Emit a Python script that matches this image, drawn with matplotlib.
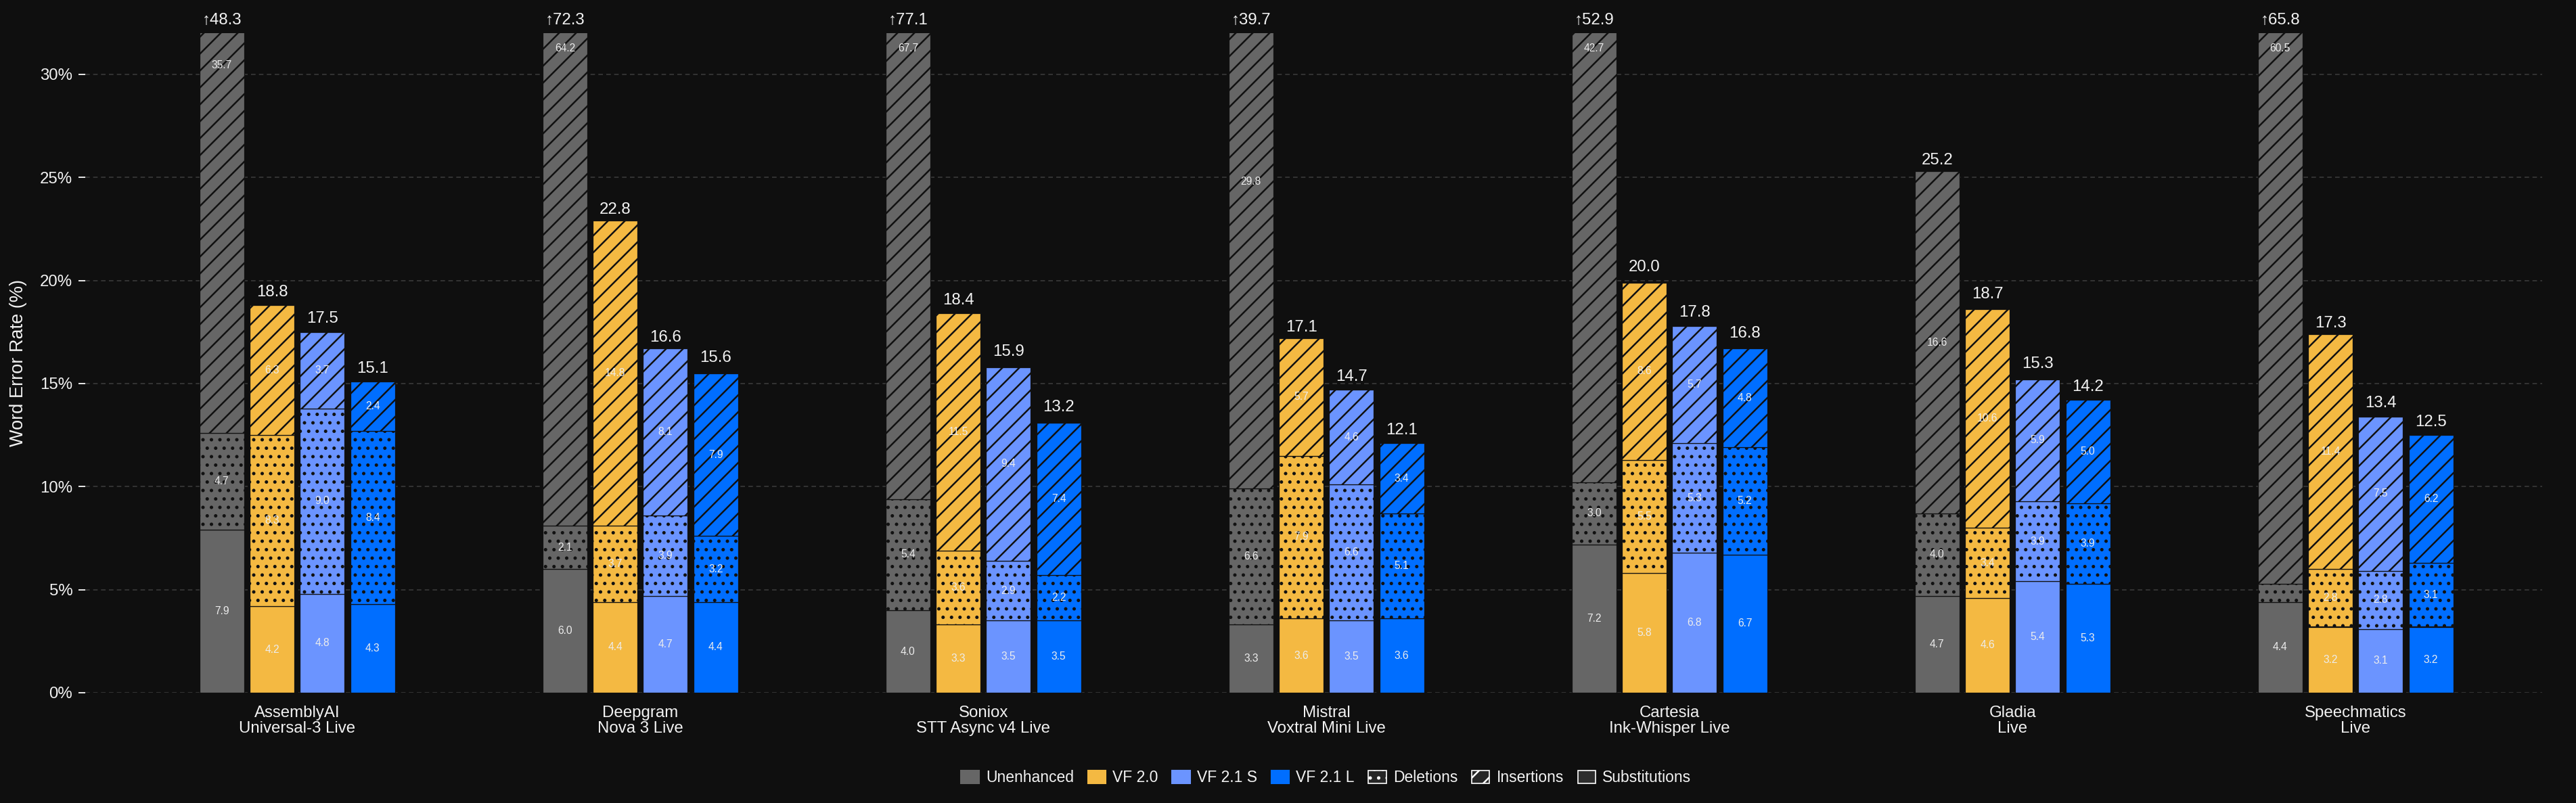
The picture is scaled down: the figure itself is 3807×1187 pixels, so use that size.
import matplotlib
matplotlib.use("Agg")
import matplotlib.pyplot as plt
from matplotlib.patches import Patch
from matplotlib.ticker import FuncFormatter
import numpy as np

# ---------------- data ----------------
providers = ["AssemblyAI\nUniversal-3 Live", "Deepgram\nNova 3 Live", "Soniox\nSTT Async v4 Live",
             "Mistral\nVoxtral Mini Live", "Cartesia\nInk-Whisper Live", "Gladia\nLive",
             "Speechmatics\nLive"]
variants = ["Unenhanced", "VF 2.0", "VF 2.1 S", "VF 2.1 L"]

# rows follow `variants`, columns follow `providers`
substitutions = [
    [7.9, 6.0, 4.0, 3.3, 7.2, 4.7, 4.4],
    [4.2, 4.4, 3.3, 3.6, 5.8, 4.6, 3.2],
    [4.8, 4.7, 3.5, 3.5, 6.8, 5.4, 3.1],
    [4.3, 4.4, 3.5, 3.6, 6.7, 5.3, 3.2],
]
deletions = [
    [4.7, 2.1, 5.4, 6.6, 3.0, 4.0, 0.9],
    [8.3, 3.7, 3.6, 7.9, 5.5, 3.4, 2.8],
    [9.0, 3.9, 2.9, 6.6, 5.3, 3.9, 2.8],
    [8.4, 3.2, 2.2, 5.1, 5.2, 3.9, 3.1],
]
insertions = [
    [35.7, 64.2, 67.7, 29.8, 42.7, 16.6, 60.5],
    [6.3, 14.8, 11.5, 5.7, 8.6, 10.6, 11.4],
    [3.7, 8.1, 9.4, 4.6, 5.7, 5.9, 7.5],
    [2.4, 7.9, 7.4, 3.4, 4.8, 5.0, 6.2],
]
totals = [
    [48.3, 72.3, 77.1, 39.7, 52.9, 25.2, 65.8],
    [18.8, 22.8, 18.4, 17.1, 20.0, 18.7, 17.3],
    [17.5, 16.6, 15.9, 14.7, 17.8, 15.3, 13.4],
    [15.1, 15.6, 13.2, 12.1, 16.8, 14.2, 12.5],
]
y_ticks = [0, 5, 10, 15, 20, 25, 30]
y_max = 32

# ---------------- style ----------------
colors = ["#666666", "#F4B942", "#6B94FF", "#006EFF"]
BG = "#0F0F0F"
TXT = "#F2F2F2"
FONT = ["Liberation Sans Narrow", "Liberation Sans", "DejaVu Sans"]

plt.rcParams["font.family"] = FONT
plt.rcParams["hatch.linewidth"] = 1.2

fig = plt.figure(figsize=(3807 / 150, 1187 / 150), dpi=150, facecolor=BG)
ax = fig.add_axes([126 / 3807, 1 - 1024 / 1187, (3757 - 126) / 3807, (1024 - 49) / 1187])
ax.set_facecolor(BG)

bar_w = 0.130
step = 0.1465
xs = np.arange(len(providers))

for j, var in enumerate(variants):
    x = xs + (j - 1.5) * step
    sub = np.array(substitutions[j])
    dele = np.array(deletions[j])
    ins = np.array(insertions[j])
    kw = dict(width=bar_w, color=colors[j], edgecolor="#111111", linewidth=0.6)
    ax.bar(x, sub, **kw)
    ax.bar(x, dele, bottom=sub, hatch="..", **kw)
    ax.bar(x, ins, bottom=sub + dele, hatch="//", **kw)
    for i in range(len(providers)):
        segs = [(0, sub[i]), (sub[i], dele[i]), (sub[i] + dele[i], ins[i])]
        for k, (b, h) in enumerate(segs):
            if h < 1.0:
                continue
            yc = b + h / 2
            if k == 2:
                yc = min(yc, y_max - 0.75)
            ax.text(x[i], yc, f"{h:.1f}", ha="center", va="center", fontsize=7.5,
                    color="#EDEDED", zorder=5)
        tot = totals[j][i]
        label = ("\u2191" if tot > y_max else "") + f"{tot:.1f}"
        ax.annotate(label, (x[i], min(tot, y_max)), xytext=(0, 4), textcoords="offset points",
                    ha="center", va="bottom", fontsize=11.5, color=TXT, annotation_clip=False,
                    family=FONT)

ax.set_xlim(-0.618, 6.544)
ax.set_ylim(0, y_max)
ax.set_yticks(y_ticks)
ax.yaxis.set_major_formatter(FuncFormatter(lambda v, p: f"{int(v)}%"))
ax.set_xticks(xs)
ax.set_xticklabels(providers, fontsize=11.5, color=TXT, linespacing=1.05)
ax.tick_params(axis="x", length=0, pad=9)
ax.tick_params(axis="y", length=5, width=0.9, color=TXT, labelcolor=TXT, labelsize=11.5, pad=4)
for s in ax.spines.values():
    s.set_visible(False)
ax.set_axisbelow(True)
ax.yaxis.grid(True, color="#3A3A3A", linestyle=(0, (4, 3)), linewidth=0.8)
ax.set_ylabel("Word Error Rate (%)", fontsize=13, color=TXT, labelpad=9)

handles = [Patch(facecolor=c, edgecolor=c, label=v) for c, v in zip(colors, variants)]
handles += [
    Patch(facecolor="#262626", edgecolor="white", hatch="..", linewidth=0.8, label="Deletions"),
    Patch(facecolor="#262626", edgecolor="white", hatch="//", linewidth=0.8, label="Insertions"),
    Patch(facecolor="#2E2E2E", edgecolor="white", linewidth=0.8, label="Substitutions"),
]
fig.legend(handles=handles, loc="center", bbox_to_anchor=(1960 / 3807, 37 / 1187), ncol=7,
           frameon=False, fontsize=11, labelcolor=TXT, handlelength=1.15, handleheight=0.85,
           handletextpad=0.45, columnspacing=0.9)

fig.savefig("out.png", dpi=150, facecolor=BG)
